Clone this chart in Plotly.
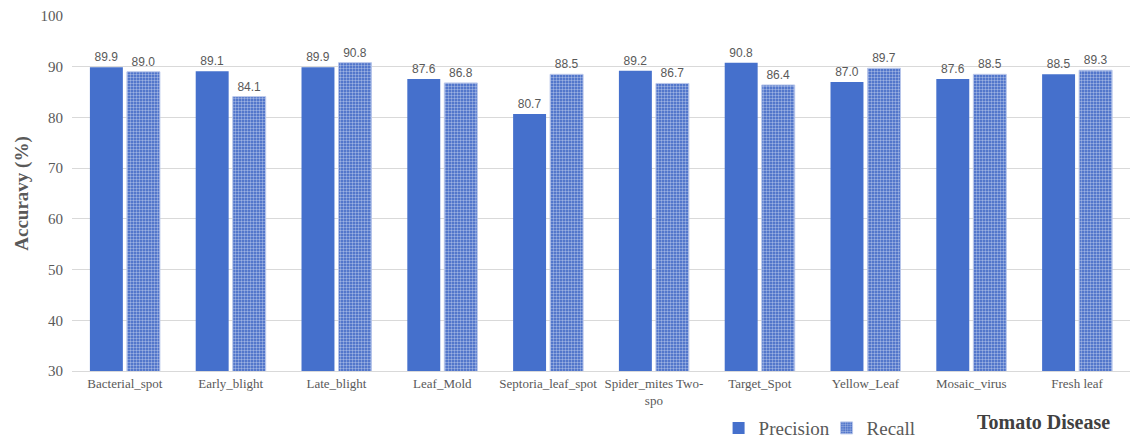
import plotly.graph_objects as go

categories = ["Bacterial_spot", "Early_blight", "Late_blight", "Leaf_Mold",
              "Septoria_leaf_spot", "Spider_mites Two-<br>spo", "Target_Spot",
              "Yellow_Leaf", "Mosaic_virus", "Fresh leaf"]
precision = [89.9, 89.1, 89.9, 87.6, 80.7, 89.2, 90.8, 87.0, 87.6, 88.5]
recall = [89.0, 84.1, 90.8, 86.8, 88.5, 86.7, 86.4, 89.7, 88.5, 89.3]

grey = "#595959"
serif = "Liberation Serif"

fig = go.Figure()
fig.add_trace(go.Bar(
    x=categories, y=precision, name="Precision",
    marker=dict(color="#4570CC", line=dict(width=0)),
    text=[f"{v:.1f}" for v in precision], textposition="outside",
    textfont=dict(family="Liberation Sans", size=12, color=grey),
    cliponaxis=False,
))
fig.add_trace(go.Bar(
    x=categories, y=recall, name="Recall",
    marker=dict(color="#3F69C7", line=dict(width=1, color="#B8C6EA"),
                pattern=dict(shape=".", fgcolor="#FFFFFF", bgcolor="#3A64C4",
                             size=3, solidity=0.5)),
    text=[f"{v:.1f}" for v in recall], textposition="outside",
    textfont=dict(family="Liberation Sans", size=12, color=grey),
    cliponaxis=False,
))

fig.update_layout(
    width=1137, height=439,
    margin=dict(l=72, r=7, t=16, b=68, autoexpand=False),
    plot_bgcolor="white", paper_bgcolor="white",
    barmode="group", bargap=0.3, bargroupgap=0.11,
    showlegend=True,
    font=dict(family=serif),
    legend=dict(orientation="h", x=0.632, y=0.025, xref="container", yref="container",
                xanchor="left", yanchor="middle",
                font=dict(family=serif, size=19, color=grey),
                itemwidth=30, entrywidth=63, traceorder="normal"),
    xaxis=dict(tickfont=dict(family=serif, size=13, color=grey),
               showline=True, linecolor="#D9D9D9", ticks="", tickangle=0),
    yaxis=dict(range=[30, 100], dtick=10,
               tickfont=dict(family=serif, size=15, color=grey),
               ticklabelstandoff=8,
               gridcolor="#D9D9D9", zeroline=False, ticks="",
               title=dict(text="<b>Accuravy (%)</b>",
                          font=dict(family=serif, size=19, color=grey),
                          standoff=6)),
    annotations=[dict(text="<b>Tomato Disease</b>", xref="paper", yref="paper",
                      x=0.983, y=-0.144, xanchor="right", yanchor="middle",
                      showarrow=False,
                      font=dict(family=serif, size=20, color="#404040"))],
)

fig.write_html("out.html")
